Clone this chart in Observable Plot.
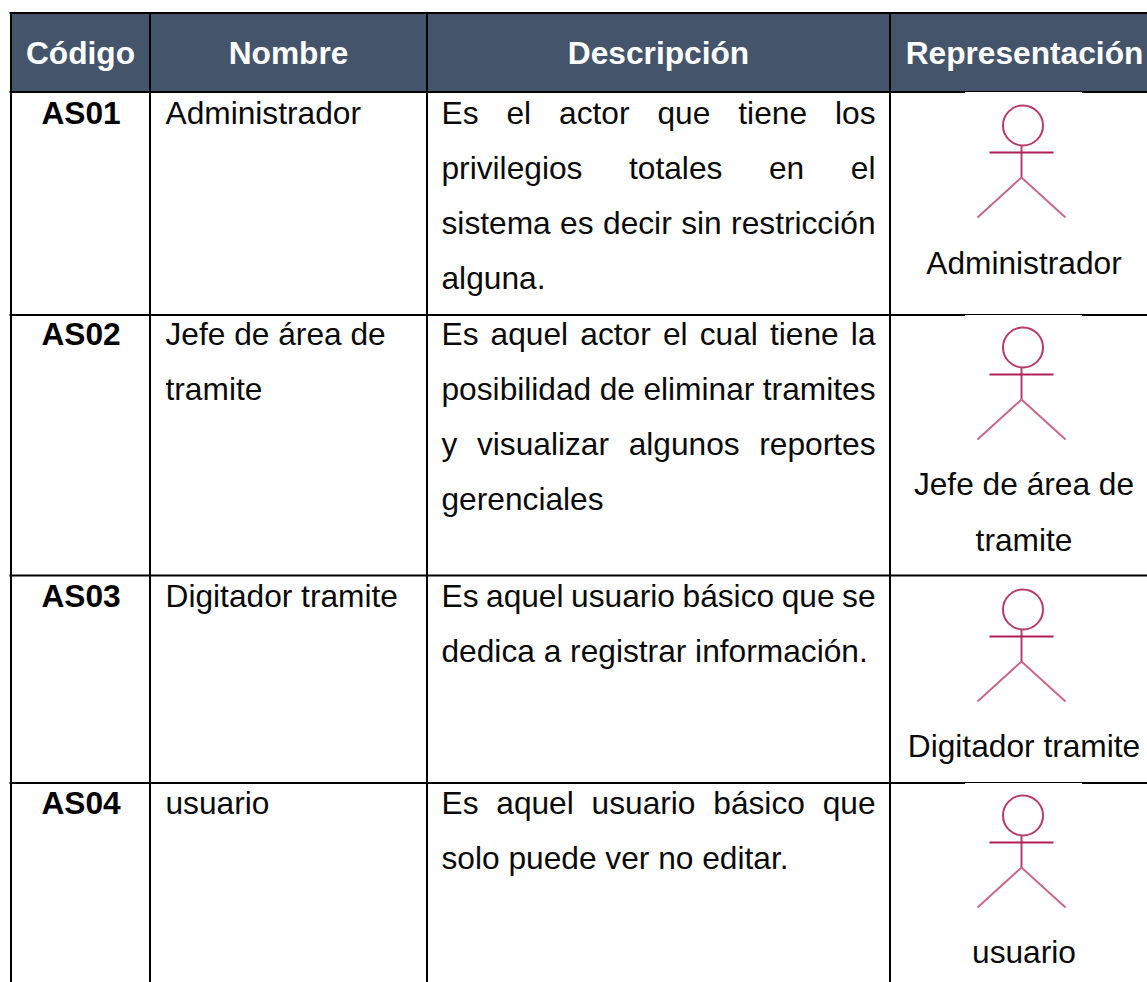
<!DOCTYPE html>
<html><head><meta charset="utf-8">
<script src="https://cdn.jsdelivr.net/npm/d3@7"></script>
<script src="https://cdn.jsdelivr.net/npm/@observablehq/plot@0.6"></script>
<style>html,body{margin:0;padding:0;background:#fff}svg{display:block}</style>
</head><body><div id="c"></div>
<script>
const headers = ["Código","Nombre","Descripción","Representación"];
const codes = ["AS01","AS02","AS03","AS04"];
const names = [["Administrador"],["Jefe de área de","tramite"],["Digitador tramite"],["usuario"]];
const descriptions = [
  ["Es el actor que tiene los","privilegios totales en el","sistema es decir sin restricción","alguna."],
  ["Es aquel actor el cual tiene la","posibilidad de eliminar tramites","y visualizar algunos reportes","gerenciales"],
  ["Es aquel usuario básico que se","dedica a registrar información."],
  ["Es aquel usuario básico que","solo puede ver no editar."]
];
const labels = [["Administrador"],["Jefe de área de","tramite"],["Digitador tramite"],["usuario"]];

// table geometry
const W = 1147, H = 982;
const columnEdges = [10.5,149.5,426.5,889.5];
const headerCenters = [80,288,658,1024];
const rowEdges = [91.5,314.5,575,782.5];
const tableTop = 12.5;
const lineStep = 55.2, firstLines = [21.5,19.7,20.9,21], labelLast = [171.7,225.5,171.6,170.1];
const textLeft = 165, descLeft = 441, descRight = 875, codeCenter = 80.5, repCenter = 1023.5;
const actorOffsets = [0,222,484,690];
const notchRows = [0,1,3], notchSpan = [965,1082];
const font = "Liberation Sans, Arial, sans-serif", fs = 31.7;

// one actor glyph relative to the first row
const glyphCenter = [1022.5,125];
const glyphRadius = 20;
const glyphSegments = [
  {p:[1021,145,1021,177], stroke:"#b5406b"},
  {p:[989,152,1053,152], stroke:"#ad1f55"},
  {p:[1021,177,977,217], stroke:"#c9678a"},
  {p:[1021,177,1065,217], stroke:"#c9678a"}
];

const ctx = document.createElement("canvas").getContext("2d");
ctx.font = `${fs}px "Liberation Sans"`;
function justify(line, top, free) {
  if (free) return [{x: descLeft, y: top, t: line}];
  const ws = line.split(" ");
  const widths = ws.map(w => ctx.measureText(w).width);
  const gap = (descRight - descLeft - d3.sum(widths)) / (ws.length - 1);
  let x = descLeft;
  return ws.map((t,i) => { const o = {x, y: top, t}; x += widths[i] + gap; return o; });
}
const descWords = [];
descriptions.forEach((lines,r) => lines.forEach((l,i) => {
  descWords.push(...justify(l, rowEdges[r] + firstLines[r] + i*lineStep, i === lines.length - 1));
}));
const nameLines = names.flatMap((ls,r) => ls.map((t,i) => ({t, y: rowEdges[r] + firstLines[r] + i*lineStep})));
const labelLines = labels.flatMap((ls,r) => ls.map((t,i) => ({t, y: rowEdges[r] + labelLast[r] - (ls.length-1-i)*lineStep})));
const codeRows = codes.map((t,r) => ({t, y: rowEdges[r] + firstLines[r]}));
const headerRows = headers.map((t,i) => ({t, x: headerCenters[i]}));
const heads = actorOffsets.map(o => ({x: glyphCenter[0], y: glyphCenter[1] + o}));
const limbs = actorOffsets.flatMap(o => glyphSegments.map(s => ({x1:s.p[0],y1:s.p[1]+o,x2:s.p[2],y2:s.p[3]+o,stroke:s.stroke})));
const notches = notchRows.map(r => rowEdges[r]);

const textOpts = {fontFamily: font, fontSize: fs};
document.getElementById("c").append(Plot.plot({
  width: W, height: H, margin: 0,
  x: {domain:[0,W], range:[0,W], axis:null},
  y: {domain:[0,H], range:[0,H], axis:null},
  style: {background:"#fff"},
  marks: [
    Plot.rect([{}], {x1: columnEdges[0], x2: W, y1: tableTop, y2: rowEdges[0], fill:"#44546a"}),
    Plot.ruleY([tableTop,...rowEdges], {x1: columnEdges[0]-1, x2: W, stroke:"#000", strokeWidth:2}),
    Plot.ruleX(columnEdges, {y1: tableTop, y2: H, stroke:"#000", strokeWidth:2}),
    Plot.rect(notches, {x1: notchSpan[0], x2: notchSpan[1], y1: d => d + 0.5, y2: d => d + 2, fill:"#fff"}),
    Plot.text(headerRows, {x:"x", y:(tableTop+rowEdges[0])/2+1, text:"t", fill:"#fff", fontWeight:"bold", ...textOpts}),
    Plot.text(codeRows, {x:codeCenter, y:"y", text:"t", fontWeight:"bold", fill:"#000", ...textOpts}),
    Plot.text(nameLines, {x:textLeft, y:"y", text:"t", textAnchor:"start", fill:"#0a0a0a", ...textOpts}),
    Plot.text(descWords, {x:"x", y:"y", text:"t", textAnchor:"start", fill:"#0a0a0a", ...textOpts}),
    Plot.text(labelLines, {x:repCenter, y:"y", text:"t", fill:"#0a0a0a", ...textOpts}),
    Plot.dot(heads, {x:"x", y:"y", r:glyphRadius, stroke:"#b73a68", strokeWidth:2, fill:"none"}),
    Plot.link(limbs, {x1:"x1", y1:"y1", x2:"x2", y2:"y2", stroke:d=>d.stroke, strokeWidth:2})
  ]
}));
</script></body></html>
